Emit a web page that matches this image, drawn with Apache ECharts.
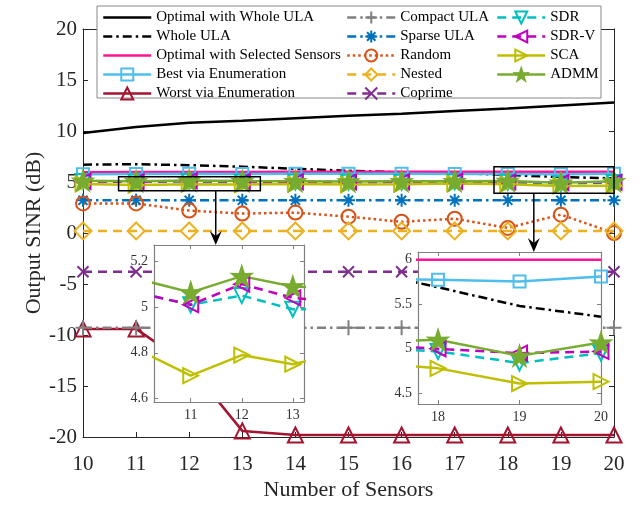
<!DOCTYPE html>
<html>
<head>
<meta charset="utf-8">
<script src="https://cdn.jsdelivr.net/npm/echarts@6/dist/echarts.min.js"></script>
<style>
html, body { margin: 0; padding: 0; background: #fff; }
#main { width: 642px; height: 510px; }
</style>
</head>
<body>
<div id="main"></div>
<script>
// data (Output SINR in dB vs number of sensors)
const sensors = [10, 11, 12, 13, 14, 15, 16, 17, 18, 19, 20];
const optWhole = [9.8, 10.4, 10.8, 11.0, 11.25, 11.5, 11.7, 11.95, 12.2, 12.5, 12.8];
const wholeUla = [6.7, 6.75, 6.65, 6.5, 6.3, 6.1, 5.95, 5.89, 5.69, 5.48, 5.36];
const optSelected = [5.95, 5.97, 5.98, 5.99, 6.0, 6.0, 6.0, 6.0, 6.0, 6.0, 6.0];
const bestEnum = [5.75, 5.78, 5.8, 5.78, 5.8, 5.82, 5.8, 5.78, 5.775, 5.756, 5.81];
const worstEnum = [-9.4, -9.4, -13.0, -19.4, -19.8, -19.8, -19.8, -19.8, -19.8, -19.8, -19.8];
const compactUla = [-9.3, -9.3, -9.3, -9.3, -9.3, -9.3, -9.3, -9.3, -9.3, -9.3, -9.3];
const sparseUla = [3.2, 3.2, 3.2, 3.2, 3.2, 3.2, 3.2, 3.2, 3.2, 3.2, 3.2];
const randomArr = [2.9, 2.9, 2.2, 1.9, 2.0, 1.6, 1.1, 1.4, 0.5, 1.8, 0.0];
const nestedArr = [0.2, 0.2, 0.2, 0.2, 0.2, 0.2, 0.2, 0.2, 0.2, 0.2, 0.2];
const coprimeArr = [-3.8, -3.8, -3.8, -3.8, -3.8, -3.8, -3.8, -3.8, -3.8, -3.8, -3.8];
const sdr = [5.06, 5.01, 5.05, 4.99, 4.99, 4.97, 4.98, 5.02, 4.97, 4.84, 4.95];
const sdrV = [5.06, 5.01, 5.1, 5.04, 5.02, 5.0, 5.02, 5.05, 5.0, 4.95, 4.97];
const sca = [4.81, 4.7, 4.79, 4.75, 4.8, 4.75, 4.78, 4.86, 4.78, 4.61, 4.63];
const admm = [5.12, 5.064, 5.135, 5.09, 5.08, 5.05, 5.07, 5.07, 5.1, 4.92, 5.07];

const inset1XTicks = [11, 12, 13];
const inset1YTicks = [4.6, 4.8, 5, 5.2];
const inset2XTicks = [18, 19, 20];
const inset2YTicks = [4.5, 5, 5.5, 6];

const font = 'Liberation Serif';
const axisCol = '#262626';
const insetCol = '#808080';

const starPath = 'path://M50,0 L61.8,35.1 L97.6,34.5 L69,56.4 L79.4,90.5 L50,70 L20.6,90.5 L31,56.4 L2.4,34.5 L38.2,35.1 Z';
const plusPath = 'path://M50,0 L50,100 M0,50 L100,50';
const xPath = 'path://M0,0 L100,100 M100,0 L0,100';
const astPath = 'path://M50,0 L50,100 M0,50 L100,50 M15,15 L85,85 M85,15 L15,85';

const dashDot = [9, 4, 2.5, 4];
const dashed = [9, 6];
const dotted = [2.5, 3];

const defs = [
  { name: 'Optimal with Whole ULA', data: optWhole, color: '#000000', dash: 'solid', symbol: null },
  { name: 'Whole ULA', data: wholeUla, color: '#000000', dash: dashDot, symbol: null },
  { name: 'Optimal with Selected Sensors', data: optSelected, color: '#ff1493', dash: 'solid', symbol: null },
  { name: 'Best via Enumeration', data: bestEnum, color: '#4DBEEE', dash: 'solid', symbol: 'rect', size: 12 },
  { name: 'Worst via Enumeration', data: worstEnum, color: '#A2142F', dash: 'solid', symbol: 'triangle', size: 15 },
  { name: 'Compact ULA', data: compactUla, color: '#808080', dash: dashDot, symbol: plusPath, size: 15 },
  { name: 'Sparse ULA', data: sparseUla, color: '#0072BD', dash: dashDot, symbol: astPath, size: 13 },
  { name: 'Random', data: randomArr, color: '#D95319', dash: dotted, symbol: 'circle', size: 14 },
  { name: 'Nested', data: nestedArr, color: '#EDB120', dash: dashed, symbol: 'diamond', size: 17 },
  { name: 'Coprime', data: coprimeArr, color: '#7E2F8E', dash: dashed, symbol: xPath, size: 11 },
  { name: 'SDR', data: sdr, color: '#00BFBF', dash: dashed, symbol: 'triangle', size: 15, rotate: 180 },
  { name: 'SDR-V', data: sdrV, color: '#BF00BF', dash: dashed, symbol: 'triangle', size: 15, rotate: 90 },
  { name: 'SCA', data: sca, color: '#BFBF00', dash: 'solid', symbol: 'triangle', size: 15, rotate: -90 },
  { name: 'ADMM', data: admm, color: '#77AC30', dash: 'solid', symbol: starPath, size: 19, filled: true }
];

const pairs = (arr) => sensors.map((x, i) => [x, arr[i]]);

const makeSeries = (d, xi, yi, z) => ({
  type: 'line',
  name: d.name,
  xAxisIndex: xi,
  yAxisIndex: yi,
  z: z,
  data: pairs(d.data),
  symbol: d.symbol || 'circle',
  showSymbol: !!d.symbol,
  symbolSize: d.size || 0,
  symbolRotate: d.rotate || 0,
  lineStyle: { color: d.color, width: 2.5, type: d.dash },
  itemStyle: d.symbol
    ? { color: d.filled ? d.color : 'transparent', borderColor: d.color, borderWidth: 2 }
    : { color: 'transparent', borderWidth: 0 },
  emphasis: { disabled: true },
  silent: true,
  animation: false
});

const series = [];
defs.forEach(d => series.push(makeSeries(d, 0, 0, 2)));
defs.forEach(d => series.push(makeSeries(d, 2, 2, 7)));
defs.forEach(d => series.push(makeSeries(d, 4, 4, 7)));

const inset1 = { left: 154, top: 245, width: 150, height: 157 };
const inset2 = { left: 418, top: 252, width: 183, height: 152 };

const mainX = (pos, extra) => Object.assign({
  type: 'value', gridIndex: 0, position: pos, min: 10, max: 20, interval: 1,
  axisLine: { show: true, onZero: false, lineStyle: { color: axisCol, width: 1 } },
  axisTick: { show: true, inside: true, length: 5, lineStyle: { color: axisCol } },
  axisLabel: { show: pos === 'bottom', fontFamily: font, fontSize: 21, color: axisCol, margin: 17 },
  splitLine: { show: false }
}, extra || {});

const mainY = (pos, extra) => Object.assign({
  type: 'value', gridIndex: 0, position: pos, min: -20, max: 20, interval: 5,
  axisLine: { show: true, onZero: false, lineStyle: { color: axisCol, width: 1 } },
  axisTick: { show: true, inside: true, length: 5, lineStyle: { color: axisCol } },
  axisLabel: { show: pos === 'left', fontFamily: font, fontSize: 21, color: axisCol, margin: 6 },
  splitLine: { show: false }
}, extra || {});

const insetAxis = (grid, pos, min, max, ticks) => ({
  type: 'value', gridIndex: grid, position: pos, min: min, max: max, z: 6,
  axisLine: { show: true, onZero: false, lineStyle: { color: insetCol, width: 1.2 } },
  axisTick: { show: true, inside: true, length: 4, customValues: ticks, lineStyle: { color: insetCol } },
  axisLabel: {
    show: pos === 'bottom' || pos === 'left', customValues: ticks,
    fontFamily: font, fontSize: 14, color: '#333', margin: 6
  },
  splitLine: { show: false }
});

const option = {
  backgroundColor: '#fff',
  animation: false,
  grid: [
    { left: 83, top: 29, width: 531, height: 408, show: false },
    Object.assign({ show: false }, inset1),
    Object.assign({ show: false }, inset2)
  ],
  xAxis: [
    mainX('bottom', {
      name: 'Number of Sensors', nameLocation: 'middle', nameGap: 42, nameMoveOverlap: false,
      nameTextStyle: { fontFamily: font, fontSize: 22, color: axisCol }
    }),
    mainX('top'),
    insetAxis(1, 'bottom', 10.28, 13.22, inset1XTicks),
    insetAxis(1, 'top', 10.28, 13.22, inset1XTicks),
    insetAxis(2, 'bottom', 17.754, 20.0, inset2XTicks),
    insetAxis(2, 'top', 17.754, 20.0, inset2XTicks)
  ],
  yAxis: [
    mainY('left', {
      name: 'Output SINR (dB)', nameLocation: 'middle', nameGap: 38, nameMoveOverlap: false,
      nameTextStyle: { fontFamily: font, fontSize: 22, color: axisCol }
    }),
    mainY('right'),
    insetAxis(1, 'left', 4.585, 5.271, inset1YTicks),
    insetAxis(1, 'right', 4.585, 5.271, inset1YTicks),
    insetAxis(2, 'left', 4.38, 6.086, inset2YTicks),
    insetAxis(2, 'right', 4.38, 6.086, inset2YTicks)
  ],
  legend: [
    { left: 102, data: defs.slice(0, 5).map(d => d.name) },
    { left: 346, data: defs.slice(5, 10).map(d => d.name) },
    { left: 496, data: defs.slice(10).map(d => d.name) }
  ].map(l => Object.assign({
    orient: 'vertical', top: 10, padding: 0, z: 9,
    itemWidth: 48, itemHeight: 15, itemGap: 4, selectedMode: false,
    lineStyle: { width: 2.5 },
    textStyle: { fontFamily: font, fontSize: 15, color: '#000', lineHeight: 15 }
  }, l)),
  series: series
};

const chart = echarts.init(document.getElementById('main'));
chart.setOption(option);

// zoom boxes, arrows, inset backgrounds, legend box
const toPx = (pt) => chart.convertToPixel({ xAxisIndex: 0, yAxisIndex: 0 }, pt);
const zoomBoxes = [
  { x: [10.67, 13.34], y: [4.15, 5.52], arrowX: 12.5, inset: inset1 },
  { x: [17.74, 20.0], y: [3.9, 6.5], arrowX: 18.49, inset: inset2 }
];
const elements = [];
zoomBoxes.forEach(b => {
  const p1 = toPx([b.x[0], b.y[1]]);
  const p2 = toPx([b.x[1], b.y[0]]);
  elements.push({
    type: 'rect', z: 4, silent: true,
    shape: { x: p1[0], y: p1[1], width: p2[0] - p1[0], height: p2[1] - p1[1] },
    style: { fill: 'none', stroke: '#000', lineWidth: 1.5 }
  });
  const a = toPx([b.arrowX, b.y[0]]);
  const tipY = b.inset.top;
  elements.push({
    type: 'line', z: 4, silent: true,
    shape: { x1: a[0], y1: a[1], x2: a[0], y2: tipY - 4 },
    style: { stroke: '#000', lineWidth: 1.5 }
  });
  elements.push({
    type: 'polygon', z: 4, silent: true,
    shape: { points: [[a[0], tipY], [a[0] - 6, tipY - 14], [a[0], tipY - 9], [a[0] + 6, tipY - 14]] },
    style: { fill: '#000' }
  });
  elements.push({
    type: 'rect', z: 5, silent: true,
    shape: { x: b.inset.left, y: b.inset.top, width: b.inset.width, height: b.inset.height },
    style: { fill: '#fff' }
  });
});
elements.push({
  type: 'rect', z: 8, silent: true,
  shape: { x: 97, y: 6, width: 504, height: 92 },
  style: { fill: '#fff', stroke: '#888', lineWidth: 1 }
});
chart.setOption({ graphic: { elements: elements } });
</script>
</body>
</html>
